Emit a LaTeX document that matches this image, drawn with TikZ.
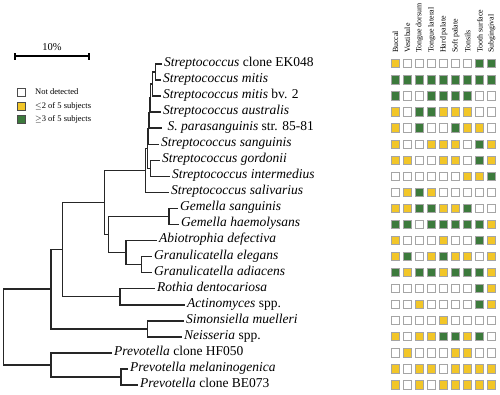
\documentclass[tikz,border=0pt]{standalone}
\usepackage{fontspec}
\setmainfont{Liberation Serif}
\definecolor{cy}{RGB}{242,198,40}
\definecolor{cg}{RGB}{60,122,60}
\definecolor{cb}{RGB}{165,165,165}
\begin{document}
\begin{tikzpicture}[x=1pt,y=-1pt,
  br/.style={line width=1.5pt, black!85},
  leaf/.style={anchor=west, inner xsep=2pt, inner ysep=0pt, font=\fontsize{13.5}{13.5}\selectfont, text height=0.68em, text depth=0.2em},
  cell/.style={draw=cb, line width=0.9pt, minimum size=8.2pt, inner sep=0pt},
  cellW/.style={fill=white},
  cellY/.style={fill=cy},
  cellG/.style={fill=cg},
  collab/.style={rotate=90, anchor=west, inner sep=0pt, font=\fontsize{7.9}{7.9}\selectfont},
  legsq/.style={draw=black!70, line width=0.8pt, minimum size=8pt, inner sep=0pt},
  legtxt/.style={anchor=west, inner sep=0pt, font=\fontsize{8.5}{8.5}\selectfont}
]
\useasboundingbox (0,0) rectangle (500,394);

% scale bar
\coordinate (sbl) at (15,56);
\coordinate (sbr) at (89,56);
\coordinate (sblt) at (15,53); \coordinate (sblb) at (15,59.5);
\coordinate (sbrt) at (89,53); \coordinate (sbrb) at (89,59.5);
\draw[line width=1.2pt] (sbl) -- (sbr);
\draw[line width=1.2pt] (sblt) -- (sblb);
\draw[line width=1.2pt] (sbrt) -- (sbrb);
\node[font=\fontsize{10.5}{10.5}\selectfont] (sbt) at (52,47) {10\%};

% legend
\node[legsq, fill=white] (lw) at (21.5,92) {};
\node[legsq, fill=cy] (ly) at (21.5,106) {};
\node[legsq, fill=cg] (lg) at (21.5,119.5) {};
\node[legtxt] (lwt) at (35,92) {Not detected};
\node[legtxt] (lyt) at (35,106) {$\leq$2 of 5 subjects};
\node[legtxt] (lgt) at (35,119.5) {$\geq$3 of 5 subjects};

% leaves
\coordinate (L1) at (162,64.0);
\coordinate (L2) at (161,80.05);
\coordinate (L3) at (161,96.1);
\coordinate (L4) at (161,112.15);
\coordinate (L5) at (162,128.2);
\coordinate (L6) at (159,144.25);
\coordinate (L7) at (160,160.3);
\coordinate (L8) at (170,176.35);
\coordinate (L9) at (169,192.4);
\coordinate (L10) at (178,208.45);
\coordinate (L11) at (179,224.5);
\coordinate (L12) at (157,240.55);
\coordinate (L13) at (152,256.6);
\coordinate (L14) at (152,272.65);
\coordinate (L15) at (155,288.7);
\coordinate (L16) at (185,304.75);
\coordinate (L17) at (184,320.8);
\coordinate (L18) at (182,336.85);
\coordinate (L19) at (112,352.9);
\coordinate (L20) at (128,368.95);
\coordinate (L21) at (138,385.0);

\node[leaf] (t1) at (L1) {\textit{Streptococcus} clone EK048};
\node[leaf] (t2) at (L2) {\textit{Streptococcus mitis}};
\node[leaf] (t3) at (L3) {\textit{Streptococcus mitis} bv. 2};
\node[leaf] (t4) at (L4) {\textit{Streptococcus australis}};
\node[leaf] (t5) at (L5) {\ \textit{S. parasanguinis} str. 85-81};
\node[leaf] (t6) at (L6) {\textit{Streptococcus sanguinis}};
\node[leaf] (t7) at (L7) {\textit{Streptococcus gordonii}};
\node[leaf] (t8) at (L8) {\textit{Streptococcus intermedius}};
\node[leaf] (t9) at (L9) {\textit{Streptococcus salivarius}};
\node[leaf] (t10) at (L10) {\textit{Gemella sanguinis}};
\node[leaf] (t11) at (L11) {\textit{Gemella haemolysans}};
\node[leaf] (t12) at (L12) {\textit{Abiotrophia defectiva}};
\node[leaf] (t13) at (L13) {\textit{Granulicatella elegans}};
\node[leaf] (t14) at (L14) {\textit{Granulicatella adiacens}};
\node[leaf] (t15) at (L15) {\textit{Rothia dentocariosa}};
\node[leaf] (t16) at (L16) {\textit{Actinomyces} spp.};
\node[leaf] (t17) at (L17) {\textit{Simonsiella muelleri}};
\node[leaf] (t18) at (L18) {\textit{Neisseria} spp.};
\node[leaf] (t19) at (L19) {\textit{Prevotella} clone HF050};
\node[leaf] (t20) at (L20) {\textit{Prevotella melaninogenica}};
\node[leaf] (t21) at (L21) {\textit{Prevotella} clone BE073};

% internal nodes
\coordinate (Y) at (155.5,72.0);
\coordinate (X) at (152.5,84.05);
\coordinate (W1) at (150.5,98.1);
\coordinate (W2) at (149.5,113.15);
\coordinate (W3) at (148.7,128.7);
\coordinate (GI) at (150.5,168.3);
\coordinate (W4) at (147.5,148.5);
\coordinate (S) at (145.5,170.45);
\coordinate (G) at (169,216.5);
\coordinate (GR) at (141.5,264.6);
\coordinate (AG) at (126,252.6);
\coordinate (D) at (108.3,234.55);
\coordinate (C) at (104.3,202.5);
\coordinate (RA) at (120,296.7);
\coordinate (B) at (62.5,249.6);
\coordinate (SN) at (147.5,328.8);
\coordinate (A) at (51,289.2);
\coordinate (P2) at (121,377);
\coordinate (P) at (51,364.95);
\coordinate (R) at (3.5,327.1);

\foreach \p/\ch in {Y/L1,Y/L2,X/Y,X/L3,W1/X,W1/L4,W2/W1,W2/L5,W3/W2,W3/L6,
  GI/L7,GI/L8,W4/W3,W4/GI,S/W4,S/L9,G/L10,G/L11,GR/L13,GR/L14,AG/L12,AG/GR,
  D/G,D/AG,C/S,C/D,RA/L15,RA/L16,B/C,B/RA,SN/L17,SN/L18,A/B,A/SN,
  P2/L20,P2/L21,P/L19,P/P2,R/A,R/P}
  \draw[br] (\p) |- (\ch);

% column headers
\foreach \h [count=\j] in {Buccal,Vestibule,Tongue dorsum,Tongue lateral,Hard palate,Soft palate,Tonsils,Tooth surface,Subgingival}
  \node[collab] (h\j) at ({395.5+12.04*(\j-1)},53) {\h};

% grid
\foreach \r [count=\i] in {
 {Y,W,W,W,W,W,W,G,G},
 {G,G,G,G,G,G,G,G,G},
 {G,W,W,G,G,G,G,W,W},
 {Y,W,G,G,Y,Y,Y,W,W},
 {Y,W,G,W,W,G,Y,Y,W},
 {Y,W,W,Y,Y,Y,W,G,Y},
 {Y,Y,W,W,Y,Y,W,G,Y},
 {W,W,W,W,W,W,Y,Y,G},
 {W,Y,G,Y,W,W,W,W,W},
 {Y,Y,G,G,Y,Y,G,W,W},
 {G,G,W,G,G,G,G,G,Y},
 {Y,W,W,W,Y,W,W,G,Y},
 {Y,G,W,Y,G,Y,Y,W,Y},
 {G,Y,G,G,Y,G,G,G,Y},
 {W,W,W,W,W,W,W,G,Y},
 {W,W,Y,W,W,W,W,G,Y},
 {W,W,W,W,Y,W,W,W,W},
 {Y,W,Y,Y,G,G,Y,G,W},
 {W,Y,W,W,W,Y,Y,W,W},
 {Y,W,Y,Y,W,Y,Y,Y,Y},
 {Y,W,Y,W,Y,Y,Y,Y,Y}}
 {
  \foreach \v [count=\j] in \r
    \node[cell, cell\v] (g\i-\j) at ({395.5+12.04*(\j-1)},{63.8+16.06*(\i-1)}) {};
 }
\end{tikzpicture}
\end{document}
